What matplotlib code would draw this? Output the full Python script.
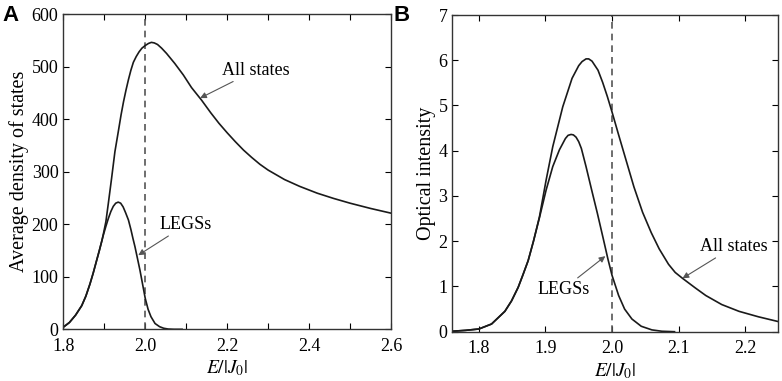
import numpy as np
import matplotlib.pyplot as plt

plt.rcParams['font.family'] = ['Liberation Serif', 'DejaVu Serif']
plt.rcParams['mathtext.fontset'] = 'stix'
plt.rcParams['font.size'] = 13

# ---- panel A: average density of states ----
a_all_x = [1.800, 1.815, 1.830, 1.845, 1.855, 1.865, 1.873, 1.881, 1.888, 1.894,
           1.898, 1.904, 1.910, 1.918, 1.926, 1.934, 1.941, 1.947, 1.953, 1.959,
           1.965, 1.971, 1.978, 1.985, 1.992, 2.000, 2.008, 2.015, 2.022, 2.030,
           2.040, 2.052, 2.072, 2.093, 2.113, 2.1376, 2.160, 2.180, 2.200, 2.220,
           2.240, 2.260, 2.280, 2.300, 2.340, 2.377, 2.420, 2.460, 2.500, 2.550,
           2.600]
a_all_y = [4, 13, 27, 45, 63, 86, 107, 130, 150, 168,
           182, 205, 240, 288, 338, 375, 408, 433, 455, 475,
           493, 508, 519, 528, 535, 540, 544, 546, 545, 542,
           535, 525, 506, 484, 460, 436, 412, 392, 374, 357,
           341, 327, 314, 303, 285, 272, 259, 249, 240, 230,
           221]

a_legs_x = [1.800, 1.815, 1.830, 1.845, 1.855, 1.865, 1.873, 1.881, 1.888, 1.894,
            1.898, 1.904, 1.910, 1.916, 1.922, 1.928, 1.934, 1.940, 1.946, 1.952,
            1.959, 1.965, 1.970, 1.975, 1.981, 1.987, 1.994, 2.000, 2.007, 2.014,
            2.024, 2.035, 2.045, 2.056, 2.070, 2.090]
a_legs_y = [4, 13, 27, 45, 63, 86, 107, 130, 150, 168,
            180, 196, 211, 224, 234, 240, 242, 240, 233, 222,
            208, 190, 173, 157, 135, 113, 84, 59, 38, 24,
            11, 5, 2, 0.5, 0, 0]

# ---- panel B: optical intensity ----
b_all_x = [1.760, 1.780, 1.800, 1.819, 1.839, 1.849, 1.859, 1.866, 1.874, 1.882,
           1.891, 1.901, 1.911, 1.926, 1.940, 1.950, 1.955, 1.961, 1.965, 1.970,
           1.979, 1.986, 1.993, 2.000, 2.010, 2.021, 2.033, 2.046, 2.059, 2.071,
           2.085, 2.095, 2.106, 2.125, 2.141, 2.165, 2.191, 2.220, 2.251]
b_all_y = [0.01, 0.03, 0.06, 0.17, 0.45, 0.68, 0.98, 1.25, 1.57, 2.00,
           2.54, 3.35, 4.09, 4.97, 5.60, 5.88, 5.97, 6.03, 6.03, 5.98,
           5.78, 5.51, 5.20, 4.86, 4.35, 3.80, 3.20, 2.64, 2.19, 1.83,
           1.49, 1.31, 1.18, 0.97, 0.80, 0.60, 0.45, 0.33, 0.22]

b_legs_x = [1.760, 1.780, 1.800, 1.819, 1.839, 1.849, 1.859, 1.866, 1.874, 1.882,
            1.891, 1.901, 1.911, 1.921, 1.930, 1.934, 1.9385, 1.942, 1.946, 1.950,
            1.954, 1.961, 1.970, 1.978, 1.987, 1.994, 2.000, 2.010, 2.019, 2.030,
            2.044, 2.060, 2.075, 2.094]
b_legs_y = [0.01, 0.03, 0.06, 0.17, 0.45, 0.68, 0.98, 1.25, 1.57, 2.00,
            2.52, 3.13, 3.65, 4.02, 4.27, 4.34, 4.36, 4.35, 4.30, 4.20,
            4.05, 3.65, 3.10, 2.62, 2.05, 1.60, 1.25, 0.80, 0.50, 0.28,
            0.12, 0.04, 0.01, 0.0]

W, H = 782, 381
fig = plt.figure(figsize=(W / 100, H / 100), dpi=100)
axA = fig.add_axes([63.3 / W, 1 - 329.3 / H, (391 - 63.3) / W, (329.3 - 14) / H])
axB = fig.add_axes([452.3 / W, 1 - 331.7 / H, (778.3 - 452.3) / W, (331.7 - 15) / H])

line_c = '#1a1a1a'
for ax in (axA, axB):
    ax.tick_params(direction='in', top=True, right=True, length=4, width=0.8,
                   which='both', labelsize=13)
    ax.tick_params(axis='x', which='both', pad=6)
    for s in ax.spines.values():
        s.set_linewidth(1.0)
        s.set_color('#333333')
    ax.axvline(2.0, color='#555555', ls='--', lw=1.2, dashes=(4, 3))
    ax.set_xlabel(r'$E/|J_0|$', fontsize=14, labelpad=3)

arrow = dict(arrowstyle='-|>', color='#555555', lw=0.8, mutation_scale=9,
             shrinkA=0, shrinkB=0)

# panel A
axA.plot(a_all_x, a_all_y, color=line_c, lw=1.2)
axA.plot(a_legs_x, a_legs_y, color=line_c, lw=1.2)
axA.set_xlim(1.8, 2.6)
axA.set_ylim(0, 600)
axA.set_xticks(np.arange(1.8, 2.61, 0.2))
axA.set_xticks(np.arange(1.9, 2.6, 0.2), minor=True)
axA.set_xticklabels(['1.8', '2.0', '2.2', '2.4', '2.6'])
axA.set_yticks(np.arange(0, 601, 100))
axA.set_ylabel('Average density of states', fontsize=14.5, labelpad=2)
axA.annotate('All states', xy=(2.134, 440), xytext=(2.187, 493),
             va='center', ha='left', fontsize=13, arrowprops=arrow)
axA.annotate('LEGSs', xy=(1.983, 141), xytext=(2.036, 199),
             va='center', ha='left', fontsize=13, arrowprops=arrow)

# panel B
axB.plot(b_all_x, b_all_y, color=line_c, lw=1.2)
axB.plot(b_legs_x, b_legs_y, color=line_c, lw=1.2)
axB.set_xlim(1.76, 2.25)
axB.set_ylim(0, 7)
axB.set_xticks([1.8, 1.9, 2.0, 2.1, 2.2])
axB.set_xticklabels(['1.8', '1.9', '2.0', '2.1', '2.2'])
axB.set_yticks(range(0, 8))
axB.set_ylabel('Optical intensity', fontsize=14.5, labelpad=2)
axB.annotate('LEGSs', xy=(1.99, 1.67), xytext=(1.8876, 0.94),
             va='center', ha='left', fontsize=13, arrowprops=arrow)
axB.annotate('All states', xy=(2.106, 1.18), xytext=(2.1324, 1.88),
             va='center', ha='left', fontsize=13, arrowprops=arrow)

fig.text(2 / W, 1 - 21 / H, 'A', family='Liberation Sans', weight='bold', fontsize=16)
fig.text(393 / W, 1 - 21 / H, 'B', family='Liberation Sans', weight='bold', fontsize=16)

fig.savefig('out.png', dpi=100)
